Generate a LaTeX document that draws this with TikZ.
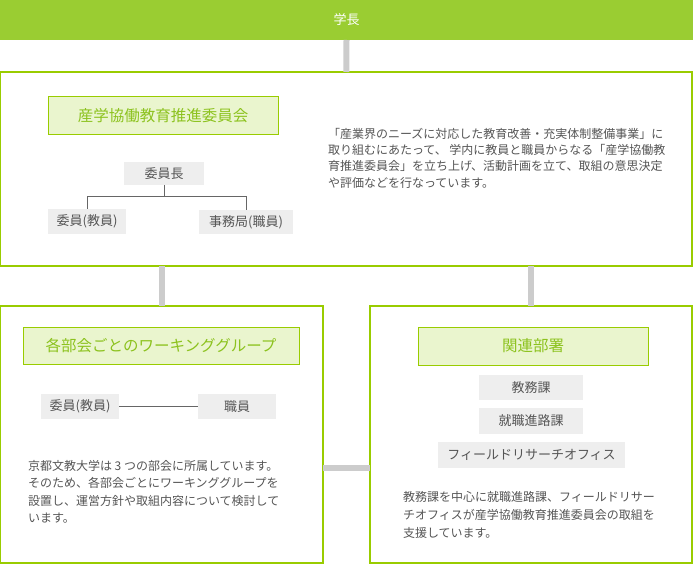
\documentclass[tikz,border=0pt]{standalone}
\usepackage{fontspec}
\setmainfont{Noto Sans CJK JP}
\usetikzlibrary{positioning}

\definecolor{bargreen}{HTML}{9ACD32}
\definecolor{linegreen}{HTML}{99CC00}
\definecolor{palegreen}{HTML}{EAF5CE}
\definecolor{titlegreen}{HTML}{8CC21E}
\definecolor{boxgray}{HTML}{EEEEEE}
\definecolor{linkgray}{HTML}{CCCCCC}
\definecolor{textgray}{HTML}{555555}

\begin{document}
\begin{tikzpicture}[x=1pt,y=-1pt,inner sep=0pt,outer sep=0pt,text=textgray]
  \tikzstyle{headbar}=[anchor=north west,fill=bargreen,text=white,font=\fontsize{13pt}{15pt}\selectfont]
  \tikzstyle{panel}=[anchor=north west,draw=linegreen,line width=1.2pt,fill=white]
  \tikzstyle{title}=[anchor=north west,draw=linegreen,line width=1pt,fill=palegreen,text=titlegreen,font=\fontsize{15.5pt}{17pt}\selectfont]
  \tikzstyle{member}=[anchor=north west,fill=boxgray,font=\fontsize{13pt}{15pt}\selectfont]
  \tikzstyle{note}=[anchor=north west,align=left]
  \tikzstyle{link}=[draw=linkgray,line width=6pt]
  \tikzstyle{tree}=[draw=textgray!90,line width=1pt]

  \useasboundingbox (0,0) rectangle (693,564);

  % top
  \node[headbar,minimum width=693pt,minimum height=40pt] (head) at (0,0) {学長};

  % council
  \node[panel,minimum width=691.4pt,minimum height=194pt] (council) at (0.6,72) {};
  \node[title,minimum width=230pt,minimum height=38pt] (ctitle) at (48,97) {産学協働教育推進委員会};
  \node[member,minimum width=80pt,minimum height=23pt] (chair) at (124,162) {委員長};
  \node[member,minimum width=78pt,minimum height=25pt] (cmember) at (48,209) {委員(教員)};
  \node[member,minimum width=94pt,minimum height=24pt] (coffice) at (199,210) {事務局(職員)};
  \node[note,font=\fontsize{12pt}{16.4pt}\selectfont] (ctext) at (328,128)
    {「産業界のニーズに対応した教育改善・充実体制整備事業」に\\
     取り組むにあたって、 学内に教員と職員からなる「産学協働教\\
     育推進委員会」を立ち上げ、活動計画を立て、取組の意思決定\\
     や評価などを行なっています。};

  % working groups
  \node[panel,minimum width=322.4pt,minimum height=257pt] (wg) at (0.6,306) {};
  \node[title,minimum width=276pt,minimum height=37pt] (wtitle) at (23,327) {各部会ごとのワーキンググループ};
  \node[member,minimum width=78pt,minimum height=25pt] (wmember) at (41,394) {委員(教員)};
  \node[member,minimum width=78pt,minimum height=25pt] (wstaff) at (198,394) {職員};
  \node[note,font=\fontsize{12pt}{17.6pt}\selectfont] (wtext) at (28,460)
    {京都文教大学は 3 つの部会に所属しています。\\
     そのため、各部会ごとにワーキンググループを\\
     設置し、運営方針や取組内容について検討して\\
     います。};

  % departments
  \node[panel,minimum width=322pt,minimum height=257pt] (dept) at (370,306) {};
  \node[title,minimum width=230pt,minimum height=38pt] (dtitle) at (418,327) {関連部署};
  \node[member,minimum width=104pt,minimum height=25pt] (kyomu) at (479,375) {教務課};
  \node[member,minimum width=104pt,minimum height=26pt] (career) at (479,408) {就職進路課};
  \node[member,minimum width=187pt,minimum height=26pt] (field) at (438,442) {フィールドリサーチオフィス};
  \node[note,font=\fontsize{12pt}{18pt}\selectfont] (dtext) at (403,491)
    {教務課を中心に就職進路課、フィールドリサー\\
     チオフィスが産学協働教育推進委員会の取組を\\
     支援しています。};

  % connectors
  \path[link] (head.south) -- (council.north);
  \path[link] (wg.north) -- (wg.north |- council.south);
  \path[link] (dept.north) -- (dept.north |- council.south);
  \path[link] (wg.east |- field.south) -- (dept.west |- field.south);

  \path[tree] (chair.south) -- ++(0,12) -| (cmember.north);
  \path[tree] (chair.south) ++(0,12) -| (coffice.north);
  \path[tree] (wmember.east) -- (wstaff.west);
\end{tikzpicture}
\end{document}
